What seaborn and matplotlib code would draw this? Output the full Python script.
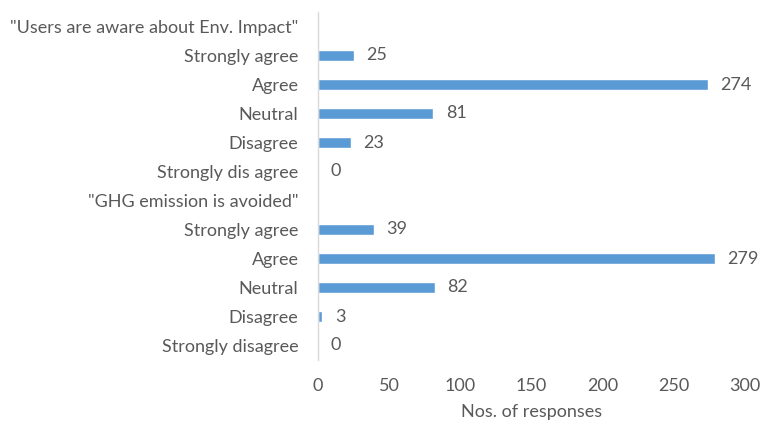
import matplotlib.pyplot as plt
import pandas as pd
import seaborn as sns

# Rows top to bottom; headers have no bar
row_labels = [
    '"Users are aware about Env. Impact"',
    "Strongly agree",
    "Agree",
    "Neutral",
    "Disagree",
    "Strongly dis agree",
    '"GHG emission is avoided"',
    "Strongly agree",
    "Agree",
    "Neutral",
    "Disagree",
    "Strongly disagree",
]
responses = [None, 25, 274, 81, 23, 0, None, 39, 279, 82, 3, 0]

BAR_COLOR = "#5B9BD5"
TEXT_COLOR = "#595959"
FS = 13

sns.set_theme(style="white")
plt.rcParams["font.family"] = ["Lato", "DejaVu Sans"]

df = pd.DataFrame(
    {
        "row": [f"r{i}" for i in range(len(row_labels))],
        "label": row_labels,
        "count": [0 if v is None else v for v in responses],
    }
)

fig = plt.figure(figsize=(7.65, 4.24), dpi=100)
ax = fig.add_axes([318 / 765, 1 - 360 / 424, (745 - 318) / 765, 348 / 424])

sns.barplot(
    data=df,
    x="count",
    y="row",
    order=list(df["row"]),
    color=BAR_COLOR,
    saturation=1,
    width=0.37,
    ax=ax,
)

# value labels, skipping header rows
bars = ax.containers[0]
labels = ["" if v is None else str(v) for v in responses]
ax.bar_label(bars, labels=labels, padding=9, fontsize=FS, color=TEXT_COLOR)

ax.set_xlim(0, 300)
ax.set_xticks(range(0, 301, 50))
ax.set_ylim(len(row_labels) - 0.5, -0.5)
ax.set_yticks(range(len(row_labels)))
ax.set_yticklabels(row_labels)

ax.tick_params(axis="y", length=0, pad=14, labelsize=FS, labelcolor=TEXT_COLOR)
ax.tick_params(axis="x", length=0, pad=13, labelsize=FS, labelcolor=TEXT_COLOR)

for side in ["top", "right", "bottom"]:
    ax.spines[side].set_visible(False)
ax.spines["left"].set_color("#D9D9D9")
ax.spines["left"].set_linewidth(1)

ax.set_ylabel("")
ax.set_xlabel("Nos. of responses", fontsize=FS, color=TEXT_COLOR, labelpad=7)

fig.savefig("out.png", dpi=100)
